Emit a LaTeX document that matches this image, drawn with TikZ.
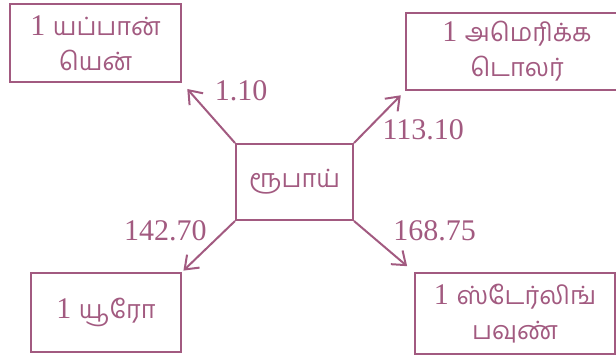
\documentclass[tikz,border=0pt]{standalone}
\usepackage{fontspec}
\setmainfont{Liberation Serif}
\newfontfamily\tamilfont[Script=Tamil,Scale=0.84]{Hind Madurai}
\usetikzlibrary{arrows.meta}
\definecolor{mauve}{RGB}{162,90,128}
\newcommand\ta[1]{{\tamilfont #1}}
\begin{document}
\begin{tikzpicture}[x=0.5pt,y=-0.5pt,
	box/.style={draw=mauve,line width=1pt,text=mauve,inner sep=0pt,align=center,
		font=\fontsize{15}{17.5}\selectfont},
	rate/.style={text=mauve,font=\fontsize{15}{17}\selectfont},
	conv/.style={draw=mauve,line width=1pt,-{Straight Barb[length=6pt,width=9pt]}}]
	\useasboundingbox (0,0) rectangle (616,358);
	\clip (0,0) rectangle (616,358);
	% கட்டங்கள்
	\node[box,minimum width=117*0.5pt,minimum height=76*0.5pt] (rub) at (294.5,182) {\ta{ரூபாய்}};
	\node[box,minimum width=171*0.5pt,minimum height=78*0.5pt] (yen) at (95.5,43) {1 \ta{யப்பான்}\\\ta{யென்}};
	\node[box,minimum width=222*0.5pt,minimum height=77*0.5pt] (usd) at (517,51.5) {1 \ta{அமெரிக்க}\\\ta{டொலர்}};
	\node[box,minimum width=150*0.5pt,minimum height=79*0.5pt] (eur) at (106,312.5) {1 \ta{யூரோ}};
	\node[box,minimum width=200*0.5pt,minimum height=81*0.5pt] (gbp) at (515,313.5) {1 \ta{ஸ்டேர்லிங்}\\\ta{பவுண்}};
	% அம்புகள்
	\draw[conv,shorten >=4pt] (rub.north west) -- (yen.south east)
		node[rate,pos=0.55,anchor=south west,inner sep=4pt] {1.10};
	\draw[conv,shorten >=3pt] (rub.north east) -- (usd.south west)
		node[rate,pos=0.5,anchor=north west,inner sep=1pt] {113.10};
	\draw[conv,shorten >=1pt] (rub.south west) -- (eur.north east)
		node[rate,pos=0.46,anchor=south east,inner sep=1.5pt] {142.70};
	\draw[conv,shorten >=4.5pt] (rub.south east) -- (gbp.north west)
		node[rate,pos=0.44,anchor=south west,inner sep=1pt,xshift=5pt] {168.75};
\end{tikzpicture}
\end{document}
